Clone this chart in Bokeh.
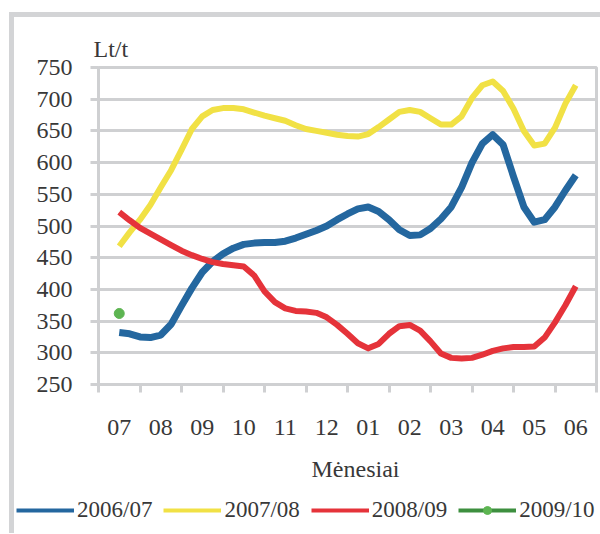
from bokeh.plotting import figure
from bokeh.layouts import column
from bokeh.models import Range1d, FixedTicker, Label, Legend, LegendItem, ColumnDataSource, Title
from bokeh.embed import file_html
from bokeh.resources import INLINE

# ---------------- data ----------------
months = ["07", "08", "09", "10", "11", "12", "01", "02", "03", "04", "05", "06"]
x_pos = [0, 0.25, 0.5, 0.75, 1, 1.25, 1.5, 1.75, 2, 2.25, 2.5, 2.75, 3, 3.25, 3.5, 3.75,
         4, 4.25, 4.5, 4.75, 5, 5.25, 5.5, 5.75, 6, 6.25, 6.5, 6.75, 7, 7.25, 7.5, 7.75,
         8, 8.25, 8.5, 8.75, 9, 9.25, 9.5, 9.75, 10, 10.25, 10.5, 10.75, 11]
s2006_07 = [332, 330, 325, 324, 328, 345, 374, 402, 427, 444, 456, 465, 471, 473, 474, 474,
            476, 481, 487, 493, 500, 510, 519, 527, 530, 523, 510, 494, 485, 486, 496, 511,
            530, 561, 600, 630, 644, 628, 578, 530, 506, 510, 530, 556, 580]
s2007_08 = [468, 490, 510, 533, 561, 588, 620, 653, 673, 683, 686, 686, 684, 679, 674, 670,
            666, 659, 653, 650, 647, 644, 642, 641, 645, 656, 668, 680, 683, 680, 670, 660,
            660, 673, 702, 722, 728, 713, 685, 650, 627, 630, 655, 693, 722]
s2008_09 = [522, 509, 497, 488, 479, 470, 461, 454, 448, 443, 440, 438, 436, 422, 397, 380,
            370, 366, 365, 363, 356, 344, 330, 315, 307, 314, 330, 342, 344, 335, 318, 299,
            292, 291, 292, 297, 303, 307, 309, 309, 310, 324, 348, 375, 405]
s2009_10_x = [0]
s2009_10 = [362]
y_ticks = [250, 300, 350, 400, 450, 500, 550, 600, 650, 700, 750]
x_bounds = [-0.5, 0.5, 1.5, 2.5, 3.5, 4.5, 5.5, 6.5, 7.5, 8.5, 9.5, 10.5, 11.5]
series_names = ["2006/07", "2007/08", "2008/09", "2009/10"]

# ---------------- style ----------------
FONT = "Liberation Serif"
GRID = "#cfd0d2"
TEXT = "#383838"
FRAME = "#d3d4d6"
BLUE = "#24679f"
YELLOW = "#f1e145"
RED = "#e5333a"
GREEN_DOT = "#5db552"
GREEN_LINE = "#3d8f3f"

p = figure(width=600, height=448, output_backend="svg", toolbar_location=None,
           x_range=Range1d(-0.5, 11.5), y_range=Range1d(250, 750),
           min_border_left=98, min_border_right=4, min_border_top=67, min_border_bottom=64,
           border_fill_color=None, background_fill_color="white",
           outline_line_color=GRID, outline_line_width=3, frame_align=False)

# y axis
p.yaxis.ticker = FixedTicker(ticks=y_ticks)
p.yaxis.axis_line_color = GRID
p.yaxis.axis_line_width = 3
p.yaxis.major_tick_line_color = GRID
p.yaxis.major_tick_line_width = 3
p.yaxis.major_tick_out = 8
p.yaxis.major_tick_in = 0
p.yaxis.minor_tick_line_color = None
p.yaxis.major_label_standoff = 18
p.yaxis.major_label_text_font = FONT
p.yaxis.major_label_text_font_size = "24px"
p.yaxis.major_label_text_color = TEXT

# x axis: labels at month centres, tick marks at month boundaries
p.xaxis.ticker = FixedTicker(ticks=list(range(len(months))), minor_ticks=x_bounds)
p.xaxis.major_label_overrides = {i: m for i, m in enumerate(months)}
p.xaxis.axis_line_color = GRID
p.xaxis.axis_line_width = 3
p.xaxis.major_tick_line_color = None
p.xaxis.major_tick_out = 0
p.xaxis.major_tick_in = 0
p.xaxis.minor_tick_line_color = GRID
p.xaxis.minor_tick_line_width = 3
p.xaxis.minor_tick_out = 8
p.xaxis.minor_tick_in = 0
p.xaxis.major_label_standoff = 27
p.xaxis.major_label_text_font = FONT
p.xaxis.major_label_text_font_size = "24px"
p.xaxis.major_label_text_color = TEXT

p.xgrid.grid_line_color = None
p.ygrid.ticker = FixedTicker(ticks=y_ticks)
p.ygrid.grid_line_color = GRID
p.ygrid.grid_line_width = 3

# data lines
p.line(x_pos, s2006_07, line_color=BLUE, line_width=7, line_join="round")
p.line(x_pos, s2007_08, line_color=YELLOW, line_width=6, line_join="round")
p.line(x_pos, s2008_09, line_color=RED, line_width=6, line_join="round")
p.scatter(s2009_10_x, s2009_10, size=10, marker="circle", fill_color=GREEN_DOT, line_color=GREEN_DOT)

p.add_layout(Title(text="Lt/t", align="left", offset=-5, standoff=12,
                   text_font=FONT, text_font_size="24px", text_color=TEXT,
                   text_font_style="normal"), "above")

# ---------------- lower strip: axis title + legend ----------------
p2 = figure(width=600, height=85, output_backend="svg", toolbar_location=None,
            x_range=Range1d(0, 600), y_range=Range1d(0, 85),
            x_axis_location=None, y_axis_location=None, min_border=0,
            outline_line_color=None, background_fill_color=None, border_fill_color=None,
            frame_align=False)
p2.grid.visible = False

nan = float("nan")
proxy = lambda: ColumnDataSource(data=dict(x=[nan], y=[nan]))
lb = p2.line("x", "y", source=proxy(), line_color=BLUE, line_width=4)
ly = p2.line("x", "y", source=proxy(), line_color=YELLOW, line_width=4)
lr = p2.line("x", "y", source=proxy(), line_color=RED, line_width=4)
lg = p2.line("x", "y", source=proxy(), line_color=GREEN_LINE, line_width=4)
lgd = p2.scatter("x", "y", source=proxy(), size=9, marker="circle", fill_color=GREEN_DOT, line_color=GREEN_DOT)

legend = Legend(items=[LegendItem(label=series_names[0], renderers=[lb]),
                       LegendItem(label=series_names[1], renderers=[ly]),
                       LegendItem(label=series_names[2], renderers=[lr]),
                       LegendItem(label=series_names[3], renderers=[lg, lgd])],
                orientation="horizontal", location=(16, 10),
                glyph_width=58, glyph_height=20, label_height=20, label_standoff=3,
                spacing=11, padding=0, margin=0, border_line_color=None,
                background_fill_alpha=0, label_text_font=FONT,
                label_text_font_size="23px", label_text_color=TEXT)
p2.add_layout(legend)

p2.add_layout(Label(x=355, y=65, text="Mėnesiai", text_align="center",
                    text_font=FONT, text_font_size="24px", text_color=TEXT,
                    text_baseline="alphabetic"))

layout = column(p, p2, spacing=0, styles={
    "background": (f"linear-gradient({FRAME},{FRAME}) 9px 12px / 5px 100% no-repeat, "
                   f"linear-gradient({FRAME},{FRAME}) 9px 12px / 100% 5px no-repeat")
})

open("out.html", "w").write(file_html(layout, INLINE))
